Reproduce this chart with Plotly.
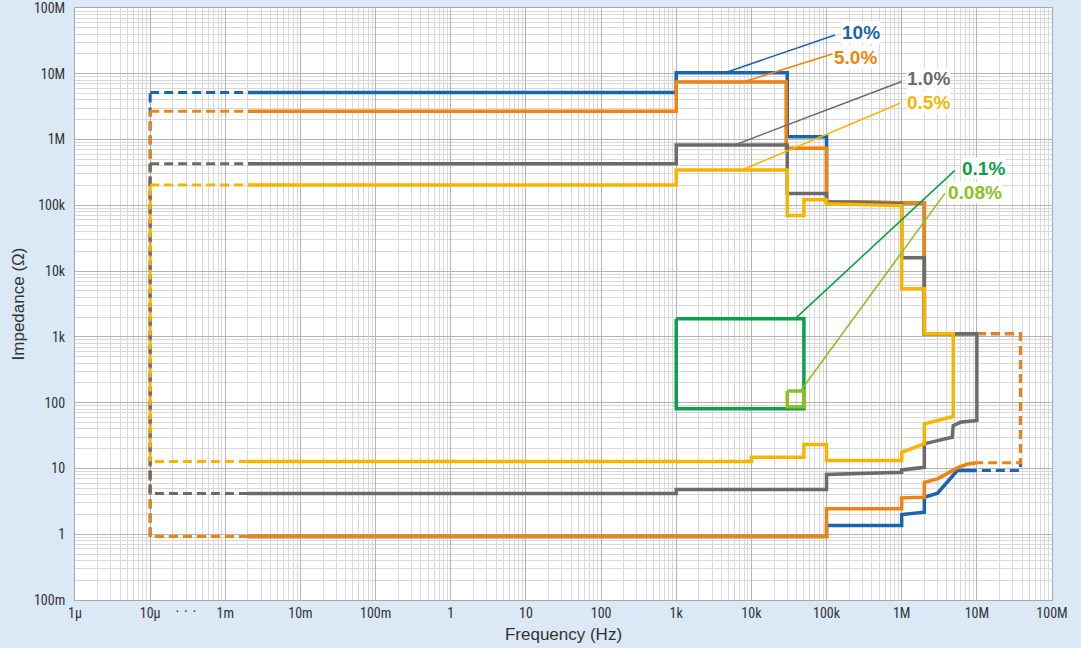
import numpy as np
import plotly.graph_objects as go

u_, m_, k_, M_ = 1e-6, 1e-3, 1e3, 1e6

# ---------------- data (frequency in Hz, impedance in ohm) ----------------
f_blue = [10*u_, 2*m_, 1*k_, 1*k_, 30*k_, 30*k_, 100*k_, 100*k_, 2*M_, 2*M_, 10*M_, 38*M_, 38*M_,
          10*M_, 5.5*M_, 3*M_, 2*M_, 2*M_, 1*M_, 1*M_, 100*k_, 100*k_, 2*m_, 10*u_, 10*u_]
z_blue = [5.2*M_, 5.2*M_, 5.2*M_, 10.4*M_, 10.4*M_, 1.1*M_, 1.1*M_, 114*k_, 108*k_, 1.12*k_, 1.12*k_, 1.12*k_, 9.3,
          9.3, 9.3, 4.2, 3.65, 2.16, 1.99, 1.36, 1.36, 0.92, 0.92, 0.92, 5.2*M_]

f_orange = [10*u_, 2*m_, 1*k_, 1*k_, 29*k_, 29*k_, 100*k_, 100*k_, 2*M_, 2*M_, 10*M_, 38*M_, 38*M_,
            10*M_, 7.6*M_, 5.5*M_, 3*M_, 2*M_, 2*M_, 1*M_, 1*M_, 100*k_, 100*k_, 2*m_, 10*u_, 10*u_]
z_orange = [2.7*M_, 2.7*M_, 2.7*M_, 7.5*M_, 7.5*M_, 735*k_, 735*k_, 114*k_, 108*k_, 1.12*k_, 1.12*k_, 1.12*k_, 12.2,
            12.2, 11.7, 10.2, 6.95, 6.17, 3.65, 3.57, 2.43, 2.43, 0.92, 0.92, 0.92, 2.7*M_]

f_grey = [10*u_, 2*m_, 1*k_, 1*k_, 30*k_, 30*k_, 100*k_, 100*k_, 1*M_, 1*M_, 2*M_, 2*M_, 10*M_, 10*M_,
          6*M_, 4.85*M_, 4.7*M_, 3*M_, 2*M_, 2*M_, 1*M_, 1*M_, 100*k_, 100*k_, 1*k_, 1*k_, 2*m_, 10*u_, 10*u_]
z_grey = [430*k_, 430*k_, 430*k_, 830*k_, 830*k_, 151*k_, 151*k_, 112*k_, 106*k_, 16*k_, 16*k_, 1.12*k_, 1.12*k_, 53.5,
          50.3, 44.9, 29.8, 26.5, 23.7, 10.4, 9.5, 8.75, 8.07, 4.77, 4.77, 4.15, 4.15, 4.15, 430*k_]

f_yellow = [10*u_, 2*m_, 1*k_, 1*k_, 30*k_, 30*k_, 50*k_, 50*k_, 100*k_, 100*k_, 1*M_, 1*M_, 2*M_, 2*M_,
            4.85*M_, 4.85*M_, 2*M_, 2*M_, 1*M_, 1*M_, 100*k_, 100*k_, 50*k_, 50*k_, 10*k_, 10*k_, 2*m_, 10*u_, 10*u_]
z_yellow = [204*k_, 204*k_, 204*k_, 345*k_, 345*k_, 70*k_, 70*k_, 122*k_, 122*k_, 106*k_, 99*k_, 5.4*k_, 5.4*k_, 1.12*k_,
            1.12*k_, 61.5, 47.6, 23.7, 17.6, 13.2, 13.2, 23.1, 23.1, 14.8, 14.8, 12.7, 12.7, 12.7, 204*k_]

f_green = [1*k_, 50*k_, 50*k_, 1*k_, 1*k_]
z_green = [1.88*k_, 1.88*k_, 80.5, 80.5, 1.88*k_]

f_lgreen = [30*k_, 50*k_, 50*k_, 30*k_, 30*k_]
z_lgreen = [150, 150, 87, 87, 150]

series_names = ["10%", "5.0%", "1.0%", "0.5%", "0.1%", "0.08%"]

x_tick_freqs = [1e-6, 1e-5, 1e-3, 1e-2, 1e-1, 1, 10, 100, 1e3, 1e4, 1e5, 1e6, 1e7, 1e8]
x_tick_text = ["1μ", "10μ", "1m", "10m", "100m", "1", "10", "100", "1k", "10k", "100k", "1M", "10M", "100M"]
y_tick_vals = [0.1, 1, 10, 100, 1e3, 1e4, 1e5, 1e6, 1e7, 1e8]
y_tick_text = ["100m", "1", "10", "100", "1k", "10k", "100k", "1M", "10M", "100M"]

# ---------------- styles / layout positions ----------------
C_BLUE = "#1a64b0"
C_ORANGE = "#ef8410"
C_GREY = "#6b6b6b"
C_YELLOW = "#f8b500"
C_GREEN = "#0ba14a"
C_LGREEN = "#8cc122"
colors = [C_BLUE, C_ORANGE, C_GREY, C_YELLOW, C_GREEN, C_LGREEN]

TICK_FONT = "Liberation Sans Narrow, Roboto Condensed, Roboto, Arial, sans-serif"
TEXT_FONT = "Liberation Sans, Arial, Helvetica, sans-serif"

# label leader lines: anchor point on curve -> end point near text ; text position
lab_anchor = [(4.47*k_, 10.4*M_), (7.76*k_, 7.5*M_), (6.0*k_, 830*k_), (7.5*k_, 345*k_), (38*k_, 1.88*k_), (45*k_, 150)]
lab_end = [(130*k_, 39*M_), (119*k_, 20*M_), (1.0*M_, 7.66*M_), (0.95*M_, 3.55*M_), (5.07*M_, 337*k_), (3.76*M_, 152*k_)]
lab_text_pos = [(158*k_, 42*M_), (122*k_, 17.6*M_), (1.15*M_, 8.4*M_), (1.13*M_, 3.67*M_), (6.2*M_, 361*k_), (4.05*M_, 158*k_)]
break_marker_pos = 1.483   # axis position (decades) of the "· · ·" break marker


def to_axis(f):
    """Axis break: the 10µ..1m span is compressed into one decade."""
    if f is None:
        return None
    f = float(f)
    return f * 1e6 if f <= 1e-5 * 1.0001 else f * 1e5


def split_runs(fs, zs):
    out = {True: ([], []), False: ([], [])}
    prev = None
    for i in range(len(fs) - 1):
        fa, fb = fs[i], fs[i + 1]
        dashed = min(fa, fb) < 2e-3 * 0.999 or max(fa, fb) > 1e7 * 1.001
        X, Y = out[dashed]
        if prev is not dashed:
            if X:
                X.append(None)
                Y.append(None)
            X.append(to_axis(fa))
            Y.append(zs[i])
        X.append(to_axis(fb))
        Y.append(zs[i + 1])
        prev = dashed
    return out


fig = go.Figure()

# green boxes
for fs, zs, col in [(f_green, z_green, C_GREEN), (f_lgreen, z_lgreen, C_LGREEN)]:
    fig.add_trace(go.Scatter(x=[to_axis(f) for f in fs], y=zs, mode="lines",
                             line=dict(color=col, width=3.5), hoverinfo="skip", showlegend=False))

# main curves
for fs, zs, col in [(f_blue, z_blue, C_BLUE), (f_orange, z_orange, C_ORANGE),
                    (f_grey, z_grey, C_GREY), (f_yellow, z_yellow, C_YELLOW)]:
    runs = split_runs(fs, zs)
    X, Y = runs[True]
    fig.add_trace(go.Scatter(x=X, y=Y, mode="lines", line=dict(color=col, width=3, dash="9px,5px"),
                             hoverinfo="skip", showlegend=False))
    X, Y = runs[False]
    fig.add_trace(go.Scatter(x=X, y=Y, mode="lines", line=dict(color=col, width=3.5),
                             hoverinfo="skip", showlegend=False))

# leader lines + labels
for name, col, a, e, t in zip(series_names, colors, lab_anchor, lab_end, lab_text_pos):
    fig.add_trace(go.Scatter(x=[to_axis(a[0]), to_axis(e[0])], y=[a[1], e[1]], mode="lines",
                             line=dict(color=col, width=1.6), hoverinfo="skip", showlegend=False))
    fig.add_annotation(x=np.log10(to_axis(t[0])), y=np.log10(t[1]), xref="x", yref="y",
                       text="<b>%s</b>" % name, showarrow=False, xanchor="left", yanchor="middle",
                       font=dict(family=TEXT_FONT, size=19, color=col),
                       bgcolor="white", borderpad=0)

# axis break marker
fig.add_annotation(x=break_marker_pos, y=-0.017, xref="x", yref="paper",
                   text="· · ·", showarrow=False, yanchor="middle",
                   font=dict(family=TEXT_FONT, size=14, color="#333"))

x_minor = [kk * 10**n for n in range(0, 13) for kk in range(2, 10)]
y_minor = [kk * 10.0**n for n in range(-1, 8) for kk in range(2, 10)]

fig.update_layout(
    width=1081, height=648,
    margin=dict(l=75, r=29, t=8, b=48, autoexpand=False),
    paper_bgcolor="#dbe8f5",
    plot_bgcolor="white",
    font=dict(family=TEXT_FONT, size=13, color="#333"),
    showlegend=False,
    xaxis=dict(
        type="log", range=[0, 13], automargin=False,
        tickmode="array", tickvals=[to_axis(f) for f in x_tick_freqs], ticktext=x_tick_text,
        showgrid=True, gridcolor="#b4b4b4", gridwidth=1,
        minor=dict(tickmode="array", tickvals=x_minor, showgrid=True, gridcolor="#d9d9d9", gridwidth=1, ticks=""),
        ticks="", showline=True, mirror=True, linecolor="#a8a8a8", linewidth=1,
        zeroline=False, ticklabeloverflow="allow",
        title=dict(text="Frequency (Hz)", font=dict(family=TEXT_FONT, size=17, color="#333"), standoff=8),
        tickfont=dict(family=TICK_FONT, size=14, color="#333"),
    ),
    yaxis=dict(
        type="log", range=[-1, 8], automargin=False,
        tickmode="array", tickvals=y_tick_vals, ticktext=y_tick_text,
        showgrid=True, gridcolor="#b4b4b4", gridwidth=1,
        minor=dict(tickmode="array", tickvals=y_minor, showgrid=True, gridcolor="#d9d9d9", gridwidth=1, ticks=""),
        ticks="", showline=True, mirror=True, linecolor="#a8a8a8", linewidth=1,
        zeroline=False, ticklabeloverflow="allow",
        title=dict(text="Impedance (Ω)", font=dict(family=TEXT_FONT, size=17, color="#333"), standoff=4),
        tickfont=dict(family=TICK_FONT, size=14, color="#333"),
        ticklabelstandoff=6,
    ),
)

fig.write_html("out.html", config={"displayModeBar": False},
               post_script="document.body.style.margin='0';")
